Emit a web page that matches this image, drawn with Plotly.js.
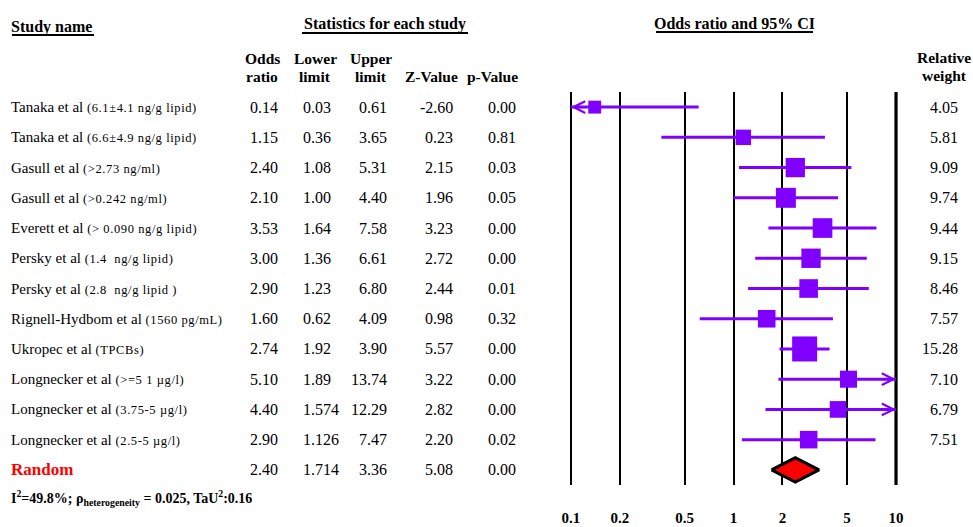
<!DOCTYPE html>
<html><head><meta charset="utf-8">
<script src="https://cdn.plot.ly/plotly-3.0.1.min.js"></script>
<style>html,body{margin:0;padding:0;background:#fff}</style>
</head><body><div id="chart" style="width:973px;height:527px"></div>
<script>
// ---------------- data ----------------
const studyNames = ["Tanaka et al","Tanaka et al","Gasull et al","Gasull et al","Everett et al","Persky et al","Persky et al","Rignell-Hydbom et al","Ukropec et al","Longnecker et al","Longnecker et al","Longnecker et al"];
const studyDetails = ["(6.1\u00b14.1 ng/g lipid)","(6.6\u00b14.9 ng/g lipid)","(>2.73 ng/ml)","(>0.242 ng/ml)","(> 0.090 ng/g lipid)","(1.4  ng/g lipid)","(2.8  ng/g lipid )","(1560 pg/mL)","(TPCBs)","(>=5 1 \u00b5g/l)","(3.75-5 \u00b5g/l)","(2.5-5 \u00b5g/l)"];
const oddsRatio  = [0.14, 1.15, 2.40, 2.10, 3.53, 3.00, 2.90, 1.60, 2.74, 5.10, 4.40, 2.90];
const lowerLimit = [0.03, 0.36, 1.08, 1.00, 1.64, 1.36, 1.23, 0.62, 1.92, 1.89, 1.574, 1.126];
const upperLimit = [0.61, 3.65, 5.31, 4.40, 7.58, 6.61, 6.80, 4.09, 3.90, 13.74, 12.29, 7.47];
const zValue     = [-2.60, 0.23, 2.15, 1.96, 3.23, 2.72, 2.44, 0.98, 5.57, 3.22, 2.82, 2.20];
const pValue     = [0.00, 0.81, 0.03, 0.05, 0.00, 0.00, 0.01, 0.32, 0.00, 0.00, 0.00, 0.02];
const relWeight  = [4.05, 5.81, 9.09, 9.74, 9.44, 9.15, 8.46, 7.57, 15.28, 7.10, 6.79, 7.51];
const pooledLabel = "Random";
const pooledOR = 2.40, pooledLower = 1.714, pooledUpper = 3.36, pooledZ = 5.08, pooledP = 0.00;
const axisTicks = [0.1, 0.2, 0.5, 1, 2, 5, 10];
const axisTickLabels = ["0.1", "0.2", "0.5", "1", "2", "5", "10"];
const heterogeneityNote = "I<sup>2</sup>=49.8%; \u03c1<sub>heterogeneity</sub> = 0.025, TaU<sup>2</sup>:0.16";

// ---------------- styling ----------------
const W = 973, H = 527;
const FONT = "Liberation Serif, Times New Roman, serif";
const PURPLE = "#7f00ff";
const xmin = axisTicks[0], xmax = axisTicks[axisTicks.length - 1];
const px = v => v / W, py = v => 1 - v / H;
const fmt = v => (Math.round(v * 100) / 100 === v ? v.toFixed(2) : String(v));
const nRows = studyNames.length + 1;          // studies + pooled row
const rows = studyNames.map((_, i) => i);
const pooledRow = studyNames.length;

// ---------------- traces ----------------
const ciX = [], ciY = [];
rows.forEach(i => {
  ciX.push(Math.max(lowerLimit[i], xmin), Math.min(upperLimit[i], xmax), null);
  ciY.push(i, i, null);
});
const traces = [];
traces.push({ // thicker right reference line at 10
  x: [xmax, xmax], y: [-0.5, nRows - 0.5], mode: "lines",
  line: { color: "black", width: 3.2 }, hoverinfo: "skip", showlegend: false
});
traces.push({
  x: ciX, y: ciY, mode: "lines", line: { color: PURPLE, width: 3 },
  hoverinfo: "skip", showlegend: false
});
traces.push({
  x: oddsRatio, y: rows, mode: "markers",
  marker: { symbol: "square", color: PURPLE, opacity: 1, size: relWeight.map(w => 6.4 * Math.sqrt(w)), line: { width: 0 } },
  showlegend: false
});
const dh = 0.4;
traces.push({
  x: [pooledLower, pooledOR, pooledUpper, pooledOR, pooledLower],
  y: [pooledRow, pooledRow - dh, pooledRow, pooledRow + dh, pooledRow],
  mode: "lines", fill: "toself", fillcolor: "#ff0000",
  line: { color: "black", width: 3 }, showlegend: false, hoverinfo: "skip"
});

// ---------------- annotations ----------------
const ann = [];
const VS = 16;
const txt = (text, x, y, opts) => Object.assign({
  text, x, y, xref: "paper", yref: "y", showarrow: false,
  xanchor: "left", yanchor: "middle",
  font: { family: FONT, size: VS, color: "black" }
}, opts || {});
const colOR = px(280), colLo = px(301), colUp = px(389), colZ = px(455), colP = px(518), colW = px(960);

rows.forEach(i => {
  ann.push(txt(studyNames[i] + ' <span style="font-size:12.5px;letter-spacing:0.6px">' + studyDetails[i] + '</span>', px(9), i, { font: { family: FONT, size: 15, color: "black" } }));
  ann.push(txt(fmt(oddsRatio[i]), colOR, i, { xanchor: "right" }));
  ann.push(txt(fmt(lowerLimit[i]), colLo, i, { xanchor: "left" }));
  ann.push(txt(fmt(upperLimit[i]), colUp, i, { xanchor: "right" }));
  ann.push(txt(fmt(zValue[i]), colZ, i, { xanchor: "right" }));
  ann.push(txt(fmt(pValue[i]), colP, i, { xanchor: "right" }));
  ann.push(txt(fmt(relWeight[i]), colW, i, { xanchor: "right" }));
  // arrows where CI exceeds axis range
  if (lowerLimit[i] < xmin) ann.push({ x: Math.log10(xmin), y: i, xref: "x", yref: "y", text: "", showarrow: true,
    ax: 16, ay: 0, arrowhead: 5, arrowsize: 1.0, arrowwidth: 2.3, arrowcolor: PURPLE, standoff: 0 });
  if (upperLimit[i] > xmax) ann.push({ x: Math.log10(xmax), y: i, xref: "x", yref: "y", text: "", showarrow: true,
    ax: -16, ay: 0, arrowhead: 5, arrowsize: 1.0, arrowwidth: 2.3, arrowcolor: PURPLE, standoff: 0 });
});
// pooled row
ann.push(txt("<b>" + pooledLabel + "</b>", px(9), pooledRow, { font: { family: FONT, size: 17, color: "#ff0000" } }));
ann.push(txt(fmt(pooledOR), colOR, pooledRow, { xanchor: "right" }));
ann.push(txt(fmt(pooledLower), colLo, pooledRow, { xanchor: "left" }));
ann.push(txt(fmt(pooledUpper), colUp, pooledRow, { xanchor: "right" }));
ann.push(txt(fmt(pooledZ), colZ, pooledRow, { xanchor: "right" }));
ann.push(txt(fmt(pooledP), colP, pooledRow, { xanchor: "right" }));

// headers
const hdr = (text, x, y, anchor, size) => ({
  text: "<b>" + text + "</b>", x: px(x), y: py(y), xref: "paper", yref: "paper",
  xanchor: anchor || "center", yanchor: "middle", showarrow: false,
  font: { family: FONT, size: size || 15.5, color: "black" }
});
ann.push(hdr("Study name", 9, 27, "left", 16));
ann.push(hdr("Statistics for each study", 385, 24, "center", 16));
ann.push(hdr("Odds ratio and 95% CI", 734, 24, "center", 16));
ann.push(hdr("Odds", 262, 58)); ann.push(hdr("ratio", 262, 76));
ann.push(hdr("Lower", 315, 58)); ann.push(hdr("limit", 315, 76));
ann.push(hdr("Upper", 371, 58)); ann.push(hdr("limit", 371, 76));
ann.push(hdr("Z-Value", 431, 76));
ann.push(hdr("p-Value", 492, 76));
ann.push(hdr("Relative", 944, 57)); ann.push(hdr("weight", 944, 75));
ann.push(hdr(heterogeneityNote, 9, 498, "left", 14));

// underlines
const ul = (x0, x1, y) => ({ type: "line", xref: "paper", yref: "paper", x0: px(x0), x1: px(x1), y0: py(y), y1: py(y), line: { color: "black", width: 2 } });
const shapes = [ul(12, 94, 35), ul(302, 468, 33), ul(656, 813, 32)];

// ---------------- layout ----------------
const layout = {
  width: W, height: H,
  margin: { l: 0, r: 0, t: 0, b: 0 },
  paper_bgcolor: "white", plot_bgcolor: "white",
  showlegend: false,
  xaxis: {
    type: "log", range: [Math.log10(xmin) - 0.03, Math.log10(xmax) + 0.03],
    domain: [566.1 / W, 900.9 / W],
    tickvals: axisTicks, ticktext: axisTickLabels,
    tickfont: { family: FONT, size: 15, color: "black", weight: "bold" },
    showgrid: true, gridcolor: "black", gridwidth: 2,
    zeroline: false, showline: false, ticks: "", ticklabelstandoff: 22,
    fixedrange: true
  },
  yaxis: {
    range: [nRows - 0.5, -0.5], domain: [py(485), py(92)],
    showgrid: false, zeroline: false, showline: false, showticklabels: false, ticks: "",
    fixedrange: true
  },
  annotations: ann, shapes: shapes
};
Plotly.newPlot("chart", traces, layout, { displayModeBar: false, staticPlot: true });
</script>
</body></html>
